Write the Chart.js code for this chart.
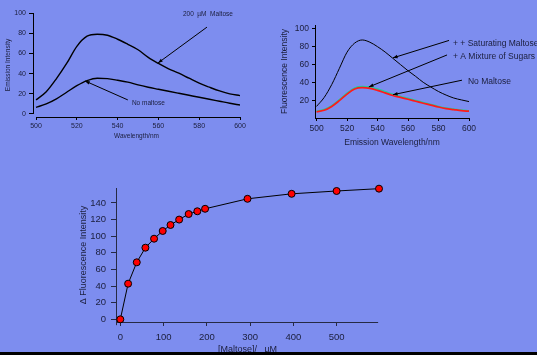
<!DOCTYPE html>
<html>
<head>
<meta charset="utf-8">
<script src="https://cdn.jsdelivr.net/npm/chart.js@4/dist/chart.umd.min.js"></script>
<style>
  html, body { margin: 0; padding: 0; }
  body { width: 537px; height: 355px; background: #7d8def; position: relative; overflow: hidden; }
  canvas { position: absolute; }
  #strip { position: absolute; left: 0; top: 352px; width: 537px; height: 3px; background: #000; }
</style>
</head>
<body>
<canvas id="emission" width="260" height="142" style="left:0;top:0"></canvas>
<canvas id="sugars" width="267" height="150" style="left:270px;top:0"></canvas>
<canvas id="titration" width="320" height="180" style="left:70px;top:175px"></canvas>
<div id="strip"></div>
<script>
// wavelengths (nm) shared by the two spectra panels
const wavelengths = [500, 505, 510, 515, 520, 525, 530, 535, 540, 545, 550, 555, 560, 565, 570, 575, 580, 585, 590, 595, 600];

// top left panel
const maltose200 = [14, 22, 35, 50, 67, 77, 79, 78, 74, 69, 63.6, 56, 50, 44.7, 40.4, 35.4, 30.5, 26.5, 22.8, 19.9, 18.2];
const noMaltoseA = [6.6, 10, 15, 21.5, 28, 33, 35.4, 35, 33.4, 31.5, 28.8, 26.5, 24.5, 22.5, 20.5, 18.5, 16.5, 14.6, 12.6, 10.6, 8.8];

// top right panel
const saturating = [13, 23, 37.6, 55.7, 73.8, 84, 87.5, 85, 80, 74, 67, 60, 53, 46.7, 40, 34.7, 29.7, 25.7, 22.4, 20.3, 18.4];
const mixture    = [7.6, 9.5, 13.9, 20.5, 27.9, 33.6, 35.2, 34.7, 32.5, 29.6, 26.6, 24.2, 22, 19.7, 17.4, 15.2, 13, 11.2, 10, 8.9, 8.1];
const noMaltoseB = [6.9, 8.7, 13, 19.5, 26.8, 32.5, 34, 33.3, 31, 28.2, 25.3, 23.1, 21, 18.8, 16.6, 14.5, 12.3, 10.5, 9.4, 8.3, 7.6];

// bottom panel
const maltoseConc = [0, 18, 38, 58, 78, 98, 116, 136, 158, 178, 196, 294, 396, 500, 598];
const deltaFluor  = [0, 42.9, 68.6, 86.2, 97, 106.3, 113.5, 120, 126.7, 130, 133, 145, 151, 154.4, 157.2];

// tick labels
const wlTicks = [500, 520, 540, 560, 580, 600];
const emTicks = [0, 20, 40, 60, 80, 100];
const flTicks = [20, 40, 60, 80, 100];
const concTicks = [0, 100, 200, 300, 400, 500];
const dfTicks = [0, 20, 40, 60, 80, 100, 120, 140];

const FONT = "'Liberation Sans', Arial, sans-serif";
const INK = '#1b1e3c';

function pts(xs, ys) {
  return xs.map((x, i) => ({ x: x, y: ys[i] }));
}

// axis lines (drawn detached, Igor style) plus arrows and notes
const decor = {
  id: 'decor',
  beforeDatasetsDraw(chart, args, opts) {
    const { ctx, chartArea: a, scales: { x, y } } = chart;
    ctx.save();
    ctx.strokeStyle = opts.axisColor;
    ctx.lineWidth = 1;
    ctx.beginPath();
    ctx.moveTo(Math.round(a.left) + 0.5, y.getPixelForValue(opts.yLine[0]));
    ctx.lineTo(Math.round(a.left) + 0.5, y.getPixelForValue(opts.yLine[1]));
    ctx.moveTo(x.getPixelForValue(opts.xLine[0]), Math.round(a.bottom) + 0.5);
    ctx.lineTo(x.getPixelForValue(opts.xLine[1]), Math.round(a.bottom) + 0.5);
    ctx.stroke();
    ctx.restore();
  },
  afterDatasetsDraw(chart, args, opts) {
    const { ctx, scales: { x, y } } = chart;
    ctx.save();
    (opts.arrows || []).forEach(ar => {
      const x0 = x.getPixelForValue(ar[0]), y0 = y.getPixelForValue(ar[1]);
      const x1 = x.getPixelForValue(ar[2]), y1 = y.getPixelForValue(ar[3]);
      const ang = Math.atan2(y1 - y0, x1 - x0);
      const hl = opts.head || 5;
      ctx.strokeStyle = '#000';
      ctx.fillStyle = '#000';
      ctx.lineWidth = 1;
      ctx.beginPath();
      ctx.moveTo(x0, y0);
      ctx.lineTo(x1, y1);
      ctx.stroke();
      ctx.beginPath();
      ctx.moveTo(x1, y1);
      ctx.lineTo(x1 - hl * Math.cos(ang - 0.35), y1 - hl * Math.sin(ang - 0.35));
      ctx.lineTo(x1 - hl * Math.cos(ang + 0.35), y1 - hl * Math.sin(ang + 0.35));
      ctx.closePath();
      ctx.fill();
    });
    ctx.fillStyle = INK;
    ctx.textBaseline = 'middle';
    ctx.textAlign = 'left';
    ctx.font = (opts.noteSize || 7) + 'px ' + FONT;
    (opts.notes || []).forEach(n => {
      ctx.fillText(n.text, x.getPixelForValue(n.x), y.getPixelForValue(n.y));
    });
    ctx.restore();
  }
};

function axis(o) {
  return {
    type: 'linear',
    min: o.min,
    max: o.max,
    afterBuildTicks: s => { s.ticks = o.ticks.map(v => ({ value: v })); },
    afterFit: s => { if (o.w) s.width = o.w; if (o.h) s.height = o.h; },
    border: { display: false },
    grid: { drawOnChartArea: false, drawTicks: true, tickLength: o.tickLen, tickColor: o.tickColor || '#000' },
    ticks: { autoSkip: false, maxRotation: 0, padding: o.pad, color: INK, font: { family: FONT, size: o.size } },
    title: { display: true, text: o.title, color: INK, font: { family: FONT, size: o.titleSize }, padding: o.titlePad }
  };
}

function line(data, color, width) {
  return { data: data, borderColor: color, borderWidth: width, pointRadius: 0, fill: false, cubicInterpolationMode: 'monotone' };
}

Chart.defaults.animation = false;

new Chart(document.getElementById('emission'), {
  type: 'line',
  data: {
    datasets: [
      line(pts(wavelengths, maltose200), '#000', 1.4),
      line(pts(wavelengths, noMaltoseA), '#000', 1.4)
    ]
  },
  options: {
    responsive: false,
    devicePixelRatio: 1,
    layout: { padding: { top: 13, right: 20, left: 0, bottom: 0 } },
    plugins: {
      legend: { display: false },
      tooltip: { enabled: false },
      decor: {
        axisColor: '#000',
        xLine: [500, 600],
        yLine: [100, 0],
        head: 5,
        noteSize: 6.5,
        arrows: [[583.8, 86, 559.8, 50.5], [545, 13.9, 524, 32.7]],
        notes: [{ text: '200  \u00b5M  Maltose', x: 572, y: 99 }, { text: 'No maltose', x: 547, y: 11 }]
      }
    },
    scales: {
      x: axis({ min: 498.5, max: 600, ticks: wlTicks, h: 25, tickLen: 3, pad: 2, size: 7, title: 'Wavelength/nm', titleSize: 6.5, titlePad: { top: 0, bottom: 2 } }),
      y: axis({ min: -3, max: 100, ticks: emTicks, w: 33, tickLen: 4, pad: 3, size: 7, title: 'Emission Intensity', titleSize: 6.5, titlePad: { top: 4, bottom: 0 } })
    }
  },
  plugins: [decor]
});

// Chart.js paints the first dataset last, so the red trace goes before the green one to sit on top
new Chart(document.getElementById('sugars'), {
  type: 'line',
  data: {
    datasets: [
      line(pts(wavelengths, saturating), '#000', 1),
      line(pts(wavelengths, noMaltoseB), '#ff1a1a', 1.7),
      line(pts(wavelengths, mixture), '#22cc99', 1.6)
    ]
  },
  options: {
    responsive: false,
    devicePixelRatio: 1,
    layout: { padding: { top: 25, right: 68, left: 0, bottom: 0 } },
    plugins: {
      legend: { display: false },
      tooltip: { enabled: false },
      decor: {
        axisColor: '#000',
        xLine: [499, 600],
        yLine: [104.3, 0],
        head: 5,
        noteSize: 8.5,
        arrows: [[586.9, 87, 550.1, 67.4], [585.6, 70.7, 534.3, 34.8], [595.4, 42.4, 550.1, 26.1]],
        notes: [
          { text: '+ + Saturating Maltose', x: 589.5, y: 83.7 },
          { text: '+ A Mixture of Sugars', x: 589.5, y: 68.5 },
          { text: 'No Maltose', x: 599.3, y: 40.2 }
        ]
      }
    },
    scales: {
      x: axis({ min: 499, max: 600, ticks: wlTicks, h: 32, tickLen: 3, pad: 3, size: 8.5, title: 'Emission Wavelength/nm', titleSize: 8.5, titlePad: { top: 0, bottom: 2 } }),
      y: axis({ min: 0, max: 104.3, ticks: flTicks, w: 45, tickLen: 3, pad: 3, size: 8.5, title: 'Fluorescence Intensity', titleSize: 8.5, titlePad: { top: 10, bottom: 0 } })
    }
  },
  plugins: [decor]
});

new Chart(document.getElementById('titration'), {
  type: 'line',
  data: {
    datasets: [{
      data: pts(maltoseConc, deltaFluor),
      borderColor: '#000',
      borderWidth: 1,
      tension: 0,
      pointRadius: 3.5,
      pointBorderWidth: 1,
      pointBackgroundColor: '#ff0000',
      pointBorderColor: '#000',
      clip: false
    }]
  },
  options: {
    responsive: false,
    devicePixelRatio: 1,
    layout: { padding: { top: 13, right: 11, left: 0, bottom: 0 } },
    plugins: {
      legend: { display: false },
      tooltip: { enabled: false },
      decor: { axisColor: '#262a44', xLine: [-10, 596], yLine: [158, -7] }
    },
    scales: {
      x: axis({ min: -10, max: 598, ticks: concTicks, h: 33, tickLen: 4, pad: 6, size: 9.5, tickColor: '#262a44', title: '[Maltose]/   \u00b5M', titleSize: 9, titlePad: { top: 0, bottom: 0 } }),
      y: axis({ min: -3.2, max: 158, ticks: dfTicks, w: 46, tickLen: 5, pad: 5, size: 9.5, tickColor: '#262a44', title: '\u0394 Fluorescence Intensity', titleSize: 9, titlePad: { top: 8, bottom: 0 } })
    }
  },
  plugins: [decor]
});
</script>
</body>
</html>
